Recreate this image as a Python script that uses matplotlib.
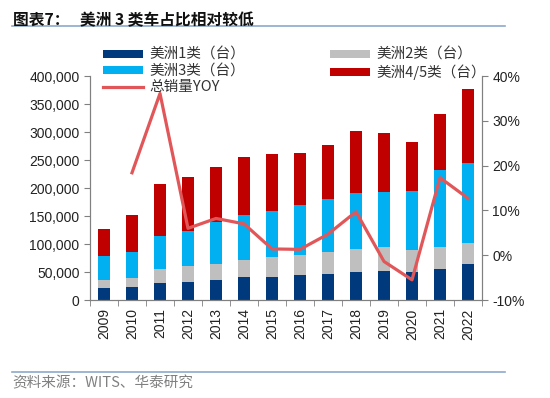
import matplotlib
matplotlib.use("Agg")
import matplotlib.pyplot as plt
import numpy as np
from matplotlib.ticker import FuncFormatter, MultipleLocator
from matplotlib.lines import Line2D

plt.rcParams['font.family'] = ['Liberation Sans', 'Noto Sans CJK SC', 'DejaVu Sans']

years = ['2009', '2010', '2011', '2012', '2013', '2014', '2015', '2016',
         '2017', '2018', '2019', '2020', '2021', '2022']
# cumulative tops, converted to segments
class1 = [21800, 22900, 31000, 33000, 35400, 41000, 41000, 44000, 47000, 49600, 51000, 49600, 54500, 65000]
class12_top = [36600, 39000, 55700, 60000, 65000, 71000, 76000, 79500, 86600, 90700, 94000, 89000, 95000, 101500]
class123_top = [78000, 86600, 115000, 124000, 139000, 151000, 159000, 170500, 181000, 191000, 192600, 194000, 232000, 245000]
total_top = [127000, 151000, 207000, 219000, 238000, 255000, 260000, 263000, 276000, 302000, 299000, 282000, 333000, 376000]
class2 = [b - a for a, b in zip(class1, class12_top)]
class3 = [b - a for a, b in zip(class12_top, class123_top)]
class45 = [b - a for a, b in zip(class123_top, total_top)]
yoy = [None, 18.4, 36.1, 6.0, 8.2, 7.0, 1.4, 1.3, 4.7, 9.7, -1.4, -5.5, 17.3, 12.7]

c1, c2, c3, c4 = '#003A7D', '#BFBFBF', '#00B0F0', '#C00000'
cl = '#E15759'

fig = plt.figure(figsize=(5.5, 3.98), dpi=100)
ax = fig.add_axes([90/550, 1-300/398, 392/550, 224/398])
x = np.arange(len(years))
w = 0.4
b1 = ax.bar(x, class1, w, color=c1, label='美洲1类（台）', zorder=2)
b2 = ax.bar(x, class2, w, bottom=class1, color=c2, label='美洲2类（台）', zorder=2)
b3 = ax.bar(x, class3, w, bottom=class12_top, color=c3, label='美洲3类（台）', zorder=2)
b4 = ax.bar(x, class45, w, bottom=class123_top, color=c4, label='美洲4/5类（台）', zorder=2)

ax.set_xlim(-0.5, len(years) - 0.5)
ax.set_ylim(0, 400000)
ax.yaxis.set_major_locator(MultipleLocator(50000))
ax.yaxis.set_major_formatter(FuncFormatter(lambda v, p: f'{int(v):,}'))
ax.set_xticks(x)
ax.set_xticklabels(years, rotation=90)
ax.set_xticks(np.arange(-0.5, len(years), 1), minor=True)
ax.tick_params(axis='x', which='major', length=0, pad=6)
ax.tick_params(axis='x', which='minor', length=4, color='#808080', direction='out')
ax.tick_params(axis='y', length=4, color='#808080', direction='out')
ax.tick_params(labelsize=10, labelcolor='#222222')
for s in ['top']:
    ax.spines[s].set_visible(False)
for s in ['left', 'right', 'bottom']:
    ax.spines[s].set_color('#808080')

ax2 = ax.twinx()
yx = [i for i, v in enumerate(yoy) if v is not None]
yv = [v / 100 for v in yoy if v is not None]
ln, = ax2.plot(yx, yv, color=cl, lw=2.3, label='总销量YOY', zorder=3)
ax2.set_ylim(-0.1, 0.4)
ax2.yaxis.set_major_locator(MultipleLocator(0.1))
ax2.yaxis.set_major_formatter(FuncFormatter(lambda v, p: f'{round(v*100):d}%'))
ax2.tick_params(axis='y', length=4, color='#808080', direction='out', labelsize=10, labelcolor='#222222')
ax2.spines['top'].set_visible(False)
for s in ['left', 'right', 'bottom']:
    ax2.spines[s].set_color('#808080')

handles = [b1, b3, ln, b2, b4]
labels = [h.get_label() for h in handles]
leg = fig.legend(handles, labels, ncol=2, loc='upper left',
                 bbox_to_anchor=(103/550, 1-48/398), frameon=False,
                 prop={'family': ['Noto Sans CJK SC'], 'size': 10.5},
                 handlelength=2.75, handleheight=0.45, labelspacing=0.15,
                 columnspacing=5.8, handletextpad=0.45, borderaxespad=0, borderpad=0)
for t in leg.get_texts():
    t.set_color('#333333')

fig.text(13/550, 1-20/398, '图表7：   美洲 3 类车占比相对较低', fontsize=11.3,
         fontweight='bold', family=['Noto Sans CJK SC'], va='center', ha='left', color='#111111')
fig.add_artist(Line2D([12/550, 505/550], [1-26/398, 1-26/398], color='#8DA9CC', lw=1.2))
fig.add_artist(Line2D([12/550, 505/550], [1-372/398, 1-372/398], color='#8DA9CC', lw=1.2))
fig.text(12/550, 1-383/398, '资料来源：WITS、华泰研究', fontsize=10.5,
         family=['Noto Sans CJK SC', 'DejaVu Sans'], va='center', ha='left', color='#808080')

fig.savefig('out.png', dpi=100)
